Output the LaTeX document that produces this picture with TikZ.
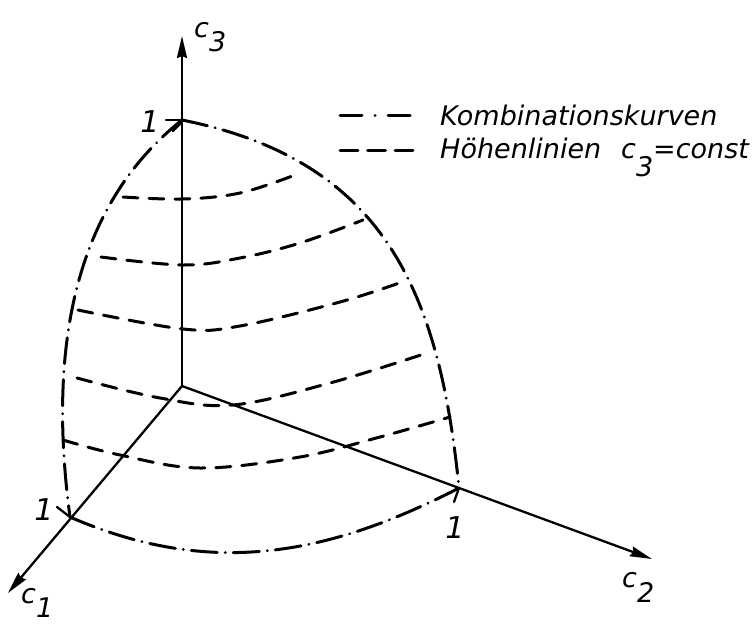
\documentclass[tikz,border=0pt]{standalone}
\usepackage{fontspec}
\setmainfont{DejaVu Sans}
\usetikzlibrary{arrows.meta}
\begin{document}
\begin{tikzpicture}[x=1pt,y=-1pt,
  axis/.style={line width=2.3pt, -{Stealth[length=22pt,width=10pt,inset=2pt]}},
  kombi/.style={line width=3pt, line cap=round, dash pattern=on 26pt off 8pt on 0.1pt off 8pt},
  hoehe/.style={line width=3pt, line cap=round, dash pattern=on 15pt off 11pt},
  tickmark/.style={line width=2.3pt, line cap=round},
  lab/.style={font=\fontsize{27}{31}\selectfont\itshape, inner sep=0pt},
  one/.style={font=\fontsize{30}{34}\selectfont\itshape, inner sep=0pt},
]
\path[use as bounding box] (0,0) rectangle (753,624);

% axes
\coordinate (O) at (182,386);
\coordinate (Z) at (182,36);
\coordinate (X1) at (8,593);
\coordinate (X2) at (652,559);
\draw[axis] (O) -- (Z);
\draw[axis] (O) -- (X1);
\draw[axis] (O) -- (X2);

% unit points
\coordinate (P3) at (182,120);
\coordinate (P1) at (70,517);
\coordinate (P2) at (459,488);

% combination curves (dash-dot)
\draw[kombi] (P3) .. controls (382,160) and (439,288) .. (P2);
\draw[kombi] (P3) .. controls (65,213) and (50,367) .. (P1);
\draw[kombi] (P1) .. controls (208,577) and (325,557) .. (P2);

% ticks
\draw[tickmark] (166,120) -- (P3);
\draw[tickmark] (181,123) -- (173,131);
\draw[tickmark] (57,507) -- (P1);
\draw[tickmark] (P2) -- (454,502);

% contour lines (dashed)
\draw[hoehe] plot[smooth, tension=0.6] coordinates {(123,197) (183,199) (240,193) (295,175)};
\draw[hoehe] plot[smooth, tension=0.6] coordinates {(101,257) (183,265) (240,258) (300,243) (363,220)};
\draw[hoehe] plot[smooth, tension=0.6] coordinates {(78,310) (183,329) (240,326) (340,302) (402,282)};
\draw[hoehe] plot[smooth, tension=0.6] coordinates {(77,378) (160,398) (233,405) (330,383) (427,353)};
\draw[hoehe] plot[smooth, tension=0.6] coordinates {(63,440) (120,455) (200,468) (300,457) (380,437) (450,417)};

% axis labels
\node[lab, anchor=base west] (lc3) at (194,37) {c\raisebox{-14pt}{3}};
\node[lab, anchor=base west] (lc2) at (622,587) {c\raisebox{-15pt}{2}};
\node[lab, anchor=base west] (lc1) at (21,603) {c\raisebox{-14pt}{1}};
\node[one, anchor=base] (l3) at (150,132) {1};
\node[one, anchor=base] (l1) at (44,520) {1};
\node[one, anchor=base] (l2) at (455,538) {1};

% legend
\coordinate (LA) at (340,115);
\coordinate (LB) at (413,115);
\coordinate (LC) at (340,150);
\coordinate (LD) at (413,150);
\draw[line width=3pt, line cap=round, dash pattern=on 22pt off 13pt on 0.1pt off 13pt] (LA) -- (LB);
\draw[line width=3pt, line cap=round, dash pattern=on 18pt off 9.5pt] (LC) -- (LD);
\node[lab, anchor=base west] (tk) at (440,125) {Kombinationskurven};
\node[lab, anchor=base west] (th) at (440,158) {Höhenlinien};
\node[lab, anchor=base west] (tc) at (621,158) {c\raisebox{-18pt}{3}=const};
\end{tikzpicture}
\end{document}
